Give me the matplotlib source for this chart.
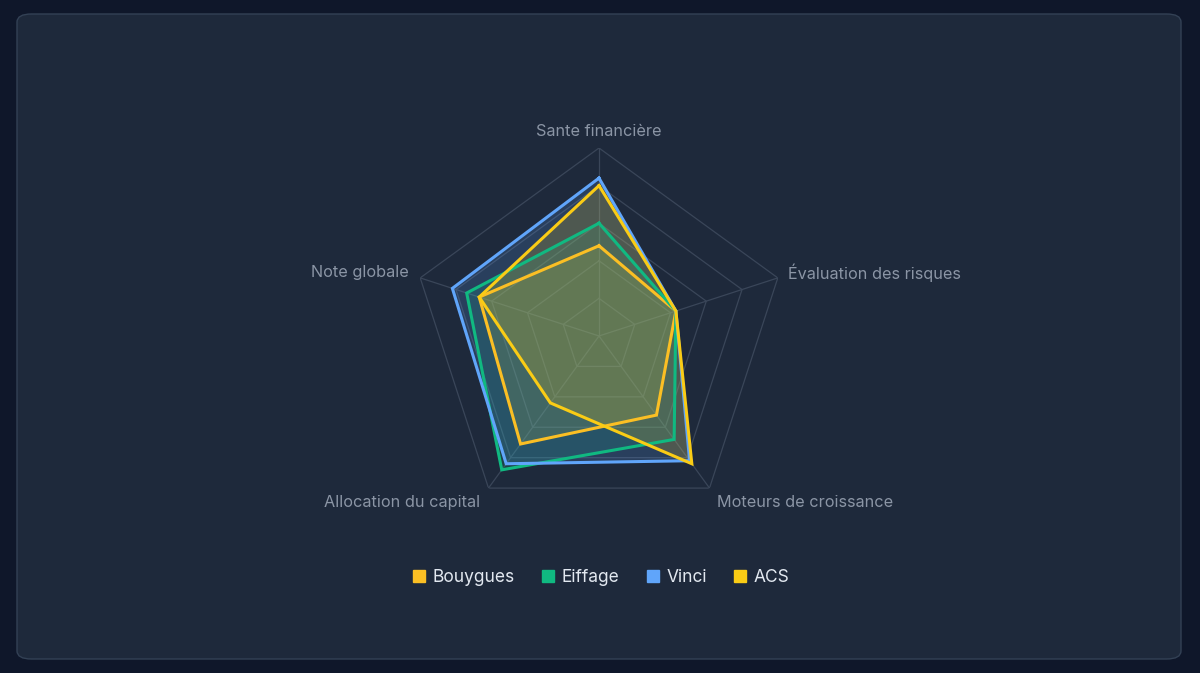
import numpy as np
import matplotlib
matplotlib.use('Agg')
import matplotlib.pyplot as plt
from matplotlib.patches import FancyBboxPatch
from matplotlib.lines import Line2D

plt.rcParams['font.family'] = ['Inter', 'DejaVu Sans']

axes_labels = ['Sante financière', 'Évaluation des risques', 'Moteurs de croissance',
               'Allocation du capital', 'Note globale']
companies = ['Bouygues', 'Eiffage', 'Vinci', 'ACS']
bouygues = [48, 43, 52, 71, 67]
eiffage = [60, 43, 68, 88, 74]
vinci = [84, 43, 82, 84, 82]
acs = [80, 43, 84, 44, 67]
colors = ['#fbbf24', '#10b981', '#60a5fa', '#facc15']

W, H = 1200, 673
fig = plt.figure(figsize=(W / 100, H / 100), dpi=100)
fig.patch.set_facecolor('#0f172a')

# card background
card = FancyBboxPatch((17 / W, 14 / H), 1164 / W, 645 / H,
                      boxstyle='round,pad=0,rounding_size=0.012',
                      transform=fig.transFigure, facecolor='#1e293b',
                      edgecolor='#334155', linewidth=1.0, zorder=-5)
fig.add_artist(card)

cx, cy, R = 599, 336, 188
ax = fig.add_axes([(cx - R) / W, (H - cy - R) / H, 2 * R / W, 2 * R / H], projection='polar')
ax.set_zorder(2)
ax.set_facecolor('none')
ax.set_theta_offset(np.pi / 2)
ax.set_theta_direction(-1)
ax.set_ylim(0, 100)
ax.grid(False)
ax.spines['polar'].set_visible(False)
ax.set_xticks([])
ax.set_yticks([])

n = len(axes_labels)
angles = np.linspace(0, 2 * np.pi, n, endpoint=False)
closed = np.append(angles, angles[0])

grid_color = '#3a4659'
for level in [20, 40, 60, 80, 100]:
    ax.plot(closed, [level] * (n + 1), color=grid_color, lw=0.9, zorder=1)
for a in angles:
    ax.plot([a, a], [0, 100], color=grid_color, lw=0.9, zorder=1)

for name, vals, c in zip(companies, [bouygues, eiffage, vinci, acs], colors):
    v = np.append(vals, vals[0])
    ax.fill(closed, v, color=c, alpha=0.18, zorder=2, lw=0)
    ax.plot(closed, v, color=c, lw=2.2, zorder=3, solid_joinstyle='miter')

# label offsets from the outer vertex, in pixels
offsets = [(0, 17, 'center'), (10, 5, 'left'), (7, -14, 'left'),
           (-8, -14, 'right'), (-11, 5, 'right')]
for a, lab, (dx, dy, ha) in zip(angles, axes_labels, offsets):
    ax.annotate(lab, xy=(a, 100), xytext=(dx, dy), textcoords='offset pixels',
                ha=ha, va='center', color='#8b95a5', fontsize=11.7)

handles = [Line2D([], [], marker='s', linestyle='none', markersize=8.5,
                  markerfacecolor=c, markeredgecolor=c) for c in colors]
leg = fig.legend(handles, companies, loc='center', bbox_to_anchor=(0.5, 1 - 578 / H),
                 ncol=4, frameon=False, fontsize=12.5, handletextpad=0.3,
                 columnspacing=1.4, handlelength=1.0)
for t in leg.get_texts():
    t.set_color('#e2e8f0')

fig.savefig('out.png', dpi=100, facecolor=fig.get_facecolor())
